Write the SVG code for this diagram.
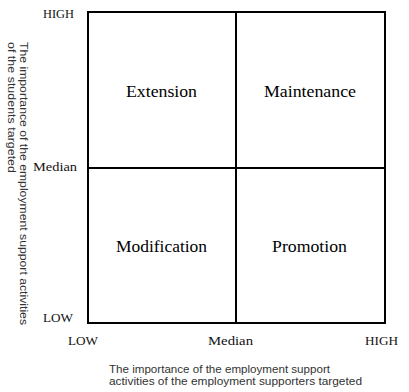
<svg xmlns="http://www.w3.org/2000/svg" width="409" height="392" viewBox="0 0 409 392">
<style>
.ax{font-family:"Liberation Serif","Times New Roman",serif;font-size:13px;fill:#111}
.q{font-family:"Liberation Serif","Times New Roman",serif;font-size:16px;fill:#000;text-anchor:middle}
.t{font-family:"Liberation Sans",Arial,sans-serif;font-size:11px;fill:#333}
.ln{stroke:#000;stroke-width:2;fill:none}
</style>
<rect width="409" height="392" fill="#fff"/>
<g id="connectors">
<rect class="ln" x="88" y="12" width="297" height="311"/>
<line class="ln" x1="236" y1="12" x2="236" y2="323"/>
<line class="ln" x1="88" y1="168" x2="385" y2="168"/>
</g>
<g id="q-extension"><text class="q" x="161.5" y="97" textLength="71" lengthAdjust="spacingAndGlyphs">Extension</text></g>
<g id="q-maintenance"><text class="q" x="310" y="97" textLength="92" lengthAdjust="spacingAndGlyphs">Maintenance</text></g>
<g id="q-modification"><text class="q" x="161.5" y="252" textLength="91" lengthAdjust="spacingAndGlyphs">Modification</text></g>
<g id="q-promotion"><text class="q" x="309.5" y="252" textLength="75" lengthAdjust="spacingAndGlyphs">Promotion</text></g>
<g id="y-labels">
<text class="ax" x="43" y="18" textLength="31" lengthAdjust="spacingAndGlyphs">HIGH</text>
<text class="ax" x="33" y="171" textLength="44" lengthAdjust="spacingAndGlyphs">Median</text>
<text class="ax" x="43" y="322" textLength="30" lengthAdjust="spacingAndGlyphs">LOW</text>
</g>
<g id="x-labels">
<text class="ax" x="68" y="345" textLength="30" lengthAdjust="spacingAndGlyphs">LOW</text>
<text class="ax" x="208" y="345" textLength="45" lengthAdjust="spacingAndGlyphs">Median</text>
<text class="ax" x="365" y="345" textLength="33" lengthAdjust="spacingAndGlyphs">HIGH</text>
</g>
<g id="y-title">
<text class="t" transform="translate(20,42) rotate(90)" textLength="283" lengthAdjust="spacingAndGlyphs">The importance of the employment support activities</text>
<text class="t" transform="translate(8,42) rotate(90)" textLength="131" lengthAdjust="spacingAndGlyphs">of the students targeted</text>
</g>
<g id="x-title">
<text class="t" x="109" y="373" textLength="221" lengthAdjust="spacingAndGlyphs">The importance of the employment support</text>
<text class="t" x="109" y="385" textLength="253" lengthAdjust="spacingAndGlyphs">activities of  the employment supporters targeted</text>
</g>
</svg>
